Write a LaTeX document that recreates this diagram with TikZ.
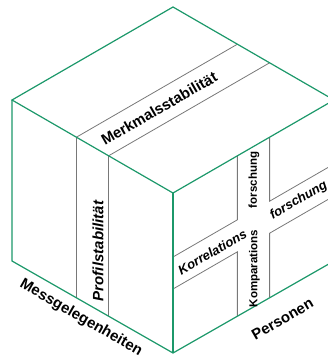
\documentclass[tikz,border=0pt]{standalone}
\usepackage{fontspec}
\setmainfont{Liberation Sans}
\usetikzlibrary{calc}
\definecolor{cubegreen}{RGB}{28,152,106}
\definecolor{bandgrey}{RGB}{120,120,120}
\tikzset{
  edge/.style={draw=cubegreen, line width=1.2pt, line join=miter},
  band/.style={draw=bandgrey, line width=0.8pt},
  lab/.style={inner sep=0pt, font=\fontsize{15}{18}\selectfont\bfseries},
  labit/.style={inner sep=0pt, font=\fontsize{13}{16}\selectfont\bfseries\itshape},
  labsm/.style={inner sep=0pt, font=\fontsize{11.5}{14}\selectfont\bfseries},
}
\begin{document}
\begin{tikzpicture}[x=1pt,y=-1pt]
\useasboundingbox (0,0) rectangle (328,357);
\clip (0,0) rectangle (328,357);
% cube corners
\coordinate (F) at (173,193);
\coordinate (L) at (12,100);
\coordinate (T) at (173,7);
\coordinate (R) at (334,100);
\coordinate (FB) at (173,353);
\coordinate (LB) at (12,261);
\coordinate (RB) at (334,261);
% top face band
\draw[band] ($(F)!0.4!(L)$) -- ($(R)!0.4!(T)$);
\draw[band] ($(F)!0.6!(L)$) -- ($(R)!0.6!(T)$);
% left face band
\draw[band] ($(F)!0.4!(L)$) -- ($(FB)!0.4!(LB)$);
\draw[band] ($(F)!0.6!(L)$) -- ($(FB)!0.6!(LB)$);
% right face cross
\draw[band] ($(F)+0.4*(161,-93)$) -- ($(F)+0.4*(161,-93)+0.4*(0,160)$) -- ($(F)+0.4*(0,160)$);
\draw[band] ($(F)+0.6*(161,-93)$) -- ($(F)+0.6*(161,-93)+0.4*(0,160)$) -- ($(F)+1*(161,-93)+0.4*(0,160)$);
\draw[band] ($(F)+0.6*(0,160)$) -- ($(F)+0.4*(161,-93)+0.6*(0,160)$) -- ($(F)+0.4*(161,-93)+1*(0,160)$);
\draw[band] ($(F)+1*(161,-93)+0.6*(0,160)$) -- ($(F)+0.6*(161,-93)+0.6*(0,160)$) -- ($(F)+0.6*(161,-93)+1*(0,160)$);
% cube edges
\draw[edge] (L) -- (T) -- (R) -- (F) -- cycle;
\draw[edge] (L) -- (LB) -- (FB) -- (RB) -- (R);
\draw[edge] (F) -- (FB);
% texts
\node[lab, rotate=30] (merk) at (159,108.5) {Merkmalsstabilität};
\node[lab, font=\fontsize{15}{18}\selectfont\bfseries\itshape, rotate=90] (prof) at (98,251) {Profilstabilität};
\node[labit, rotate=30] (korr) at (212.3,252) {Korrelations};
\node[labit, rotate=30, anchor=west] (forsch1) at (271,216.4) {forschung};
\node[labsm, rotate=90] (forsch2) at (254,180) {forschung};
\node[labsm, rotate=90] (komp) at (254.5,268.5) {Komparations};
\node[lab, rotate=-30] (mess) at (81,318) {Messgelegenheiten};
\node[lab, rotate=30] (pers) at (282.5,319) {Personen};
\end{tikzpicture}
\end{document}
